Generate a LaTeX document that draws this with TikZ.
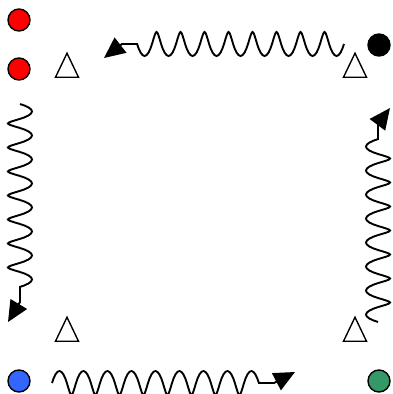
\documentclass[tikz,border=0pt]{standalone}
\usepackage{tikz}
\usetikzlibrary{shapes.geometric,arrows.meta,decorations.pathmorphing,positioning}

\begin{document}
\begin{tikzpicture}[
    x=1pt, y=-1pt,
    dot/.style={circle, draw, line width=1.4pt, minimum size=22pt, inner sep=0pt},
    tri/.style={isosceles triangle, isosceles triangle stretches, shape border rotate=90,
      draw, line width=1.4pt, minimum height=24pt, minimum width=23pt, inner sep=0pt},
    wavy/.style={line width=1.9pt, -{Triangle[length=21pt, width=19pt]}},
    coilwave/.style={decoration={coil, segment length=24pt, amplitude=12pt, aspect=0.12,
      pre length=0pt, post length=0pt}}
  ]
    \useasboundingbox (0,0) rectangle (392,394);

    % corner dots
    \node[dot, fill=red] (redA) at (19,20) {};
    \node[dot, fill=red] (redB) at (19,69) {};
    \node[dot, fill=black] (blk) at (379,45) {};
    \node[dot, fill={rgb,255:red,51;green,102;blue,255}] (blu) at (19,381) {};
    \node[dot, fill={rgb,255:red,51;green,153;blue,102}] (grn) at (379,381) {};

    % inner triangles
    \node[tri] (triNW) at (67,70) {};
    \node[tri] (triNE) at (355,70) {};
    \node[tri] (triSW) at (67,334) {};
    \node[tri] (triSE) at (355,334) {};

    % ends of the wavy arrows
    \coordinate (topR) at (344,44);
    \coordinate (topL) at (122,44);
    \coordinate (topTip) at (104,58);
    \coordinate (lftT) at (20,104);
    \coordinate (lftB) at (20,302);
    \coordinate (lftTip) at (8,322);
    \coordinate (botL) at (52,383);
    \coordinate (botR) at (274,383);
    \coordinate (botTip) at (295,372);
    \coordinate (rgtB) at (378,322);
    \coordinate (rgtT) at (378,124);
    \coordinate (rgtTip) at (390,108);

    \draw[wavy] (topR) decorate[coilwave] {-- (topL)} -- (topTip);
    \draw[wavy] (lftT) decorate[coilwave] {-- (lftB)} -- (lftTip);
    \draw[wavy] (botL) decorate[coilwave] {-- (botR)} -- (botTip);
    \draw[wavy] (rgtB) decorate[coilwave] {-- (rgtT)} -- (rgtTip);
  \end{tikzpicture}
\end{document}
